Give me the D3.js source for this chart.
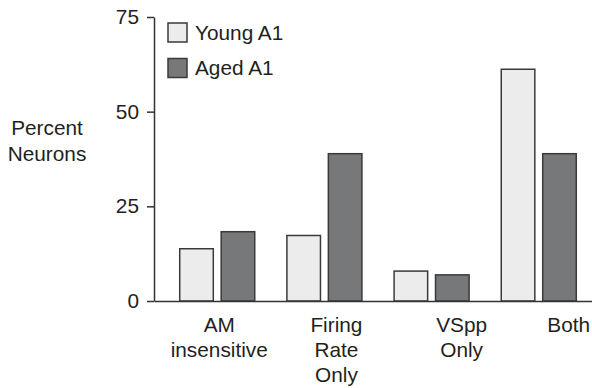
<!DOCTYPE html>
<html>
<head>
<meta charset="utf-8">
<script src="https://cdn.jsdelivr.net/npm/d3@7"></script>
<style>
  body { margin: 0; background: #fff; }
  text { font-family: "Liberation Sans", Arial, sans-serif; fill: #231f20; }
</style>
</head>
<body>
<div id="chart"></div>
<script>
/* Data */
const categories = ["AM insensitive", "Firing Rate Only", "VSpp Only", "Both"];
const categoryLines = [["AM", "insensitive"], ["Firing", "Rate", "Only"], ["VSpp", "Only"], ["Both"]];
const seriesNames = ["Young A1", "Aged A1"];
const youngValues = [13.8, 17.3, 7.9, 61.2];
const agedValues = [18.3, 38.9, 6.9, 38.9];
const yTicks = [0, 25, 50, 75];

/* Dimensions */
const width = 592;
const height = 388;
const margin = { top: 17, right: 0, bottom: 87, left: 154 };
const fontSize = "20.8px";

const colors = { "Young A1": "#ececec", "Aged A1": "#77787a" };

const rows = categories.map((c, i) => ({
  category: c,
  values: [
    { series: seriesNames[0], value: youngValues[i] },
    { series: seriesNames[1], value: agedValues[i] },
  ],
}));

/* Scales */
const x0 = d3.scaleBand()
  .domain(categories)
  .range([margin.left, 602])
  .paddingInner(0.3)
  .paddingOuter(0.24);

const x1 = d3.scaleBand()
  .domain(seriesNames)
  .range([0, x0.bandwidth()])
  .paddingInner(0.19);

const y = d3.scaleLinear()
  .domain([0, 75])
  .range([height - margin.bottom, margin.top]);

/* SVG container */
const svg = d3.select("#chart")
  .append("svg")
  .attr("width", width)
  .attr("height", height);

// Bars
svg.append("g")
  .selectAll("g")
  .data(rows)
  .join("g")
  .attr("transform", d => `translate(${x0(d.category)},0)`)
  .selectAll("rect")
  .data(d => d.values)
  .join("rect")
  .attr("x", d => x1(d.series))
  .attr("y", d => y(d.value))
  .attr("width", x1.bandwidth())
  .attr("height", d => y(0) - y(d.value))
  .attr("fill", d => colors[d.series])
  .attr("stroke", "#3a3a3a")
  .attr("stroke-width", 1.5);

/* Axes */
// Y-axis
const yAxis = svg.append("g")
  .attr("transform", `translate(${margin.left},0)`)
  .call(d3.axisLeft(y).tickValues(yTicks).tickSize(7).tickPadding(8).tickSizeOuter(0));
yAxis.selectAll("path, line").attr("stroke", "#333").attr("stroke-width", 1.5);
yAxis.selectAll("text").style("font-size", fontSize).attr("fill", "#231f20");

// X-axis (line only, labels drawn below)
const xAxis = svg.append("g")
  .attr("transform", `translate(0,${y(0)})`)
  .call(d3.axisBottom(x0).tickSize(0).tickFormat(""));
xAxis.select(".domain").attr("stroke", "#333").attr("stroke-width", 1.5);

// X labels, nudged as in the original figure
const labelNudge = [2, 12, 30, 30];
const xLabels = svg.append("g")
  .selectAll("text")
  .data(categories)
  .join("text")
  .attr("text-anchor", "middle")
  .style("font-size", fontSize)
  .attr("transform", (d, i) => `translate(${x0(d) + x0.bandwidth() / 2 + labelNudge[i]},${y(0) + 31})`);

xLabels.selectAll("tspan")
  .data((d, i) => categoryLines[i])
  .join("tspan")
  .attr("x", 0)
  .attr("y", (d, i) => i * 25)
  .text(d => d);

// Y-label
svg.append("text")
  .attr("text-anchor", "middle")
  .style("font-size", fontSize)
  .attr("transform", "translate(47,135)")
  .selectAll("tspan")
  .data(["Percent", "Neurons"])
  .join("tspan")
  .attr("x", 0)
  .attr("y", (d, i) => i * 26)
  .text(d => d);

// Legend
const legend = svg.append("g")
  .selectAll("g")
  .data(seriesNames)
  .join("g")
  .attr("transform", (d, i) => `translate(168,${23 + i * 35.5})`);

legend.append("rect")
  .attr("width", 19)
  .attr("height", 19)
  .attr("fill", d => colors[d])
  .attr("stroke", "#3a3a3a")
  .attr("stroke-width", 1.5);

legend.append("text")
  .attr("x", 27)
  .attr("y", 16.5)
  .style("font-size", fontSize)
  .text(d => d);
</script>
</body>
</html>
